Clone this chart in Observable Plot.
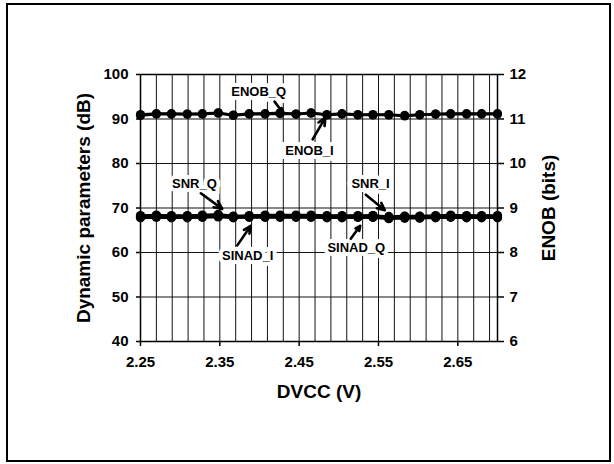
<!DOCTYPE html>
<html>
<head>
<meta charset="utf-8">
<script src="https://cdn.jsdelivr.net/npm/d3@7"></script>
<script src="https://cdn.jsdelivr.net/npm/@observablehq/plot@0.6"></script>
<style>
  html, body { margin: 0; padding: 0; background: white; }
  #wrap { position: relative; width: 614px; height: 464px; overflow: hidden; }
  #chart { position: absolute; left: 0; top: 0; }
  #border { position: absolute; left: 6px; top: 3px; width: 605px; height: 459px; box-sizing: border-box; border: 2px solid black; z-index: 2; pointer-events: none; }
</style>
</head>
<body>
<div id="wrap"><div id="chart"></div><div id="border"></div></div>
<script>
// DVCC supply voltage (V)
const dvcc = [2.250, 2.270, 2.289, 2.309, 2.328, 2.348, 2.367, 2.387, 2.407, 2.426, 2.446, 2.465,
              2.485, 2.504, 2.524, 2.543, 2.563, 2.583, 2.602, 2.622, 2.641, 2.661, 2.680, 2.700];
// dB series (left axis)
const snrI   = [68.2, 68.3, 68.2, 68.2, 68.3, 68.4, 68.1, 68.2, 68.3, 68.3, 68.3, 68.3, 68.2, 68.2, 68.2, 68.3, 67.9, 68.1, 68.1, 68.2, 68.3, 68.2, 68.2, 68.2];
const snrQ   = [68.3, 68.4, 68.3, 68.3, 68.4, 68.6, 68.2, 68.3, 68.4, 68.4, 68.4, 68.4, 68.3, 68.3, 68.3, 68.3, 68.1, 68.2, 68.2, 68.3, 68.4, 68.3, 68.3, 68.3];
const sinadI = [67.8, 67.9, 67.8, 67.8, 67.9, 68.0, 67.8, 67.9, 67.9, 67.9, 67.9, 67.9, 67.8, 67.8, 67.9, 67.9, 67.6, 67.7, 67.7, 67.8, 67.9, 67.8, 67.8, 67.8];
const sinadQ = [67.9, 68.0, 67.9, 67.9, 68.0, 68.1, 67.9, 68.0, 68.0, 68.0, 68.0, 68.0, 67.9, 67.9, 67.9, 67.9, 67.7, 67.8, 67.8, 67.9, 68.0, 67.9, 67.9, 67.9];
// ENOB series in bits (right axis)
const enobI  = [11.08, 11.11, 11.11, 11.11, 11.11, 11.13, 11.08, 11.11, 11.11, 11.12, 11.11, 11.13, 11.09, 11.11, 11.09, 11.09, 11.09, 11.07, 11.09, 11.11, 11.11, 11.11, 11.11, 11.11];
const enobQ  = [11.10, 11.12, 11.12, 11.11, 11.12, 11.14, 11.09, 11.12, 11.12, 11.14, 11.11, 11.14, 11.10, 11.12, 11.10, 11.10, 11.10, 11.08, 11.10, 11.11, 11.12, 11.12, 11.12, 11.12];

// axis ticks
const xTicks = [2.25, 2.35, 2.45, 2.55, 2.65];
const xGrid = [2.27, 2.29, 2.31, 2.33, 2.35, 2.37, 2.39, 2.41, 2.43, 2.45, 2.47, 2.49, 2.51, 2.53, 2.55, 2.57, 2.59, 2.61, 2.63, 2.65, 2.67, 2.69];
const yTicks = [40, 50, 60, 70, 80, 90, 100];
const yRightLabels = ["6", "7", "8", "9", "10", "11", "12"];

// annotations (label position and arrow from -> to, in data units: V, dB)
const annLabel = ["ENOB_Q", "ENOB_I", "SNR_Q", "SNR_I", "SINAD_I", "SINAD_Q"];
const annX  = [2.399, 2.463, 2.318, 2.540, 2.385, 2.522];
const annY  = [96.2, 82.9, 75.5, 75.5, 59.3, 61.1];
const arrX1 = [2.419, 2.467, 2.326, 2.534, 2.372, 2.515];
const arrY1 = [93.9, 85.4, 73.3, 73.0, 61.6, 63.1];
const arrX2 = [2.429, 2.483, 2.353, 2.558, 2.389, 2.527];
const arrY2 = [91.5, 90.3, 69.8, 69.5, 66.0, 66.0];

const bitsToDb = b => 40 + (b - 6) * 10;

const rows = [];
const add = (name, vals, conv) => vals.forEach((v, i) => rows.push({x: dvcc[i], y: conv ? conv(v) : v, series: name}));
add("SNR_I", snrI); add("SNR_Q", snrQ); add("SINAD_I", sinadI); add("SINAD_Q", sinadQ);
add("ENOB_I", enobI, bitsToDb); add("ENOB_Q", enobQ, bitsToDb);

const ann = annLabel.map((t, i) => ({t, x: annX[i], y: annY[i], x1: arrX1[i], y1: arrY1[i], x2: arrX2[i], y2: arrY2[i]}));

const chart = Plot.plot({
  width: 614,
  height: 464,
  marginLeft: 140,
  marginRight: 117,
  marginTop: 74,
  marginBottom: 123,
  style: {fontFamily: "'Liberation Sans', Arial, sans-serif", fontSize: "15px", fontWeight: "bold", background: "transparent", color: "black"},
  x: {domain: [2.25, 2.70]},
  y: {domain: [40, 100]},
  marks: [
    Plot.ruleX(xGrid, {stroke: "#111", strokeWidth: 1}),
    Plot.ruleY(yTicks, {stroke: "#111", strokeWidth: 1}),
    Plot.frame({stroke: "black", strokeWidth: 1.5}),
    Plot.axisY(yTicks, {anchor: "left", tickSize: 4, tickPadding: 8, label: null, fontSize: 15, fontWeight: "bold", strokeWidth: 1.5}),
    Plot.axisY(yTicks, {anchor: "right", tickSize: 6, tickPadding: 6, label: null, tickFormat: d => yRightLabels[yTicks.indexOf(d)], fontSize: 15, fontWeight: "bold", strokeWidth: 1.5}),
    Plot.axisX(xTicks, {anchor: "bottom", tickSize: 5, tickPadding: 10, label: null, tickFormat: d => d.toFixed(2), fontSize: 15, fontWeight: "bold", strokeWidth: 1.5}),
    Plot.line(rows, {x: "x", y: "y", z: "series", stroke: "black", strokeWidth: 2.6}),
    Plot.dot(rows, {x: "x", y: "y", r: 4.6, fill: "black", stroke: "none"}),
    Plot.text(ann, {x: "x", y: "y", text: "t", fontSize: 13, fontWeight: "bold", fill: "black", stroke: "white", strokeWidth: 8, strokeLinejoin: "miter", paintOrder: "stroke"}),
    Plot.arrow(ann, {x1: "x1", y1: "y1", x2: "x2", y2: "y2", stroke: "black", strokeWidth: 2.6, headLength: 9, headAngle: 50}),
    Plot.text(["DVCC (V)"], {text: d => d, frameAnchor: "bottom", dy: 56, fontSize: 19, fontWeight: "bold"}),
    Plot.text(["Dynamic parameters (dB)"], {text: d => d, frameAnchor: "left", textAnchor: "middle", dx: -57, rotate: -90, fontSize: 19, fontWeight: "bold"}),
    Plot.text(["ENOB (bits)"], {text: d => d, frameAnchor: "right", textAnchor: "middle", dx: 51, rotate: -90, fontSize: 19, fontWeight: "bold"})
  ]
});
document.getElementById("chart").appendChild(chart);
</script>
</body>
</html>
